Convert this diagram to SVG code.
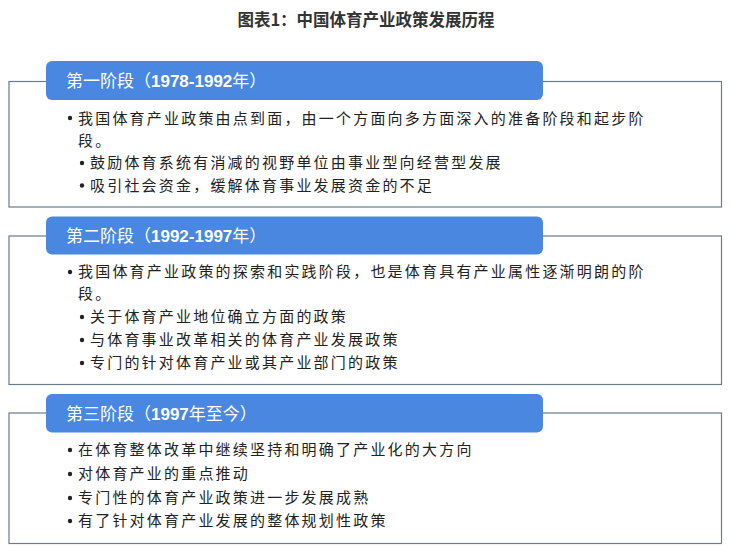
<svg xmlns="http://www.w3.org/2000/svg" width="732" height="560" viewBox="0 0 732 560">
<style>
.title{font-family:"Noto Sans CJK SC","Liberation Sans",sans-serif;font-size:16.5px;font-weight:bold;fill:#333;}
.frame{fill:#fff;stroke:#6b7b89;stroke-width:1.2;}
.head{fill:#4a87e0;}
.htxt{font-family:"Noto Sans CJK SC","Liberation Sans",sans-serif;font-size:17px;fill:#fff;}
.num{font-family:"Liberation Sans","Noto Sans CJK SC",sans-serif;font-weight:bold;}
.body{font-family:"Noto Sans CJK SC","Liberation Sans",sans-serif;font-size:15px;fill:#222;letter-spacing:2.2px;}
.dot{fill:#222;}
</style>
<rect x="0" y="0" width="732" height="560" fill="#fff"/>
<text class="title" x="366" y="26" text-anchor="middle">图表1：中国体育产业政策发展历程</text>

<g id="stage1">
<rect class="frame" x="9" y="81.5" width="712.5" height="125.5"/>
<rect class="head" x="46" y="61" width="497" height="39" rx="6"/>
<text class="htxt" x="66" y="86.5">第一阶段（<tspan class="num">1978-1992</tspan>年）</text>
<circle class="dot" cx="70" cy="118" r="2.2"/>
<text class="body" x="78" y="123.5">我国体育产业政策由点到面，由一个方面向多方面深入的准备阶段和起步阶</text>
<text class="body" x="78" y="145.5">段。</text>
<circle class="dot" cx="82" cy="163" r="2.2"/>
<text class="body" x="90" y="168">鼓励体育系统有消减的视野单位由事业型向经营型发展</text>
<circle class="dot" cx="82" cy="185.5" r="2.2"/>
<text class="body" x="90" y="190.5">吸引社会资金，缓解体育事业发展资金的不足</text>
</g>

<g id="stage2">
<rect class="frame" x="9" y="236" width="712.5" height="148.5"/>
<rect class="head" x="46" y="216.5" width="497" height="38" rx="6"/>
<text class="htxt" x="66" y="241.5">第二阶段（<tspan class="num">1992-1997</tspan>年）</text>
<circle class="dot" cx="70" cy="272" r="2.2"/>
<text class="body" x="78" y="277">我国体育产业政策的探索和实践阶段，也是体育具有产业属性逐渐明朗的阶</text>
<text class="body" x="78" y="299">段。</text>
<circle class="dot" cx="82" cy="317" r="2.2"/>
<text class="body" x="90" y="322">关于体育产业地位确立方面的政策</text>
<circle class="dot" cx="82" cy="340" r="2.2"/>
<text class="body" x="90" y="345">与体育事业改革相关的体育产业发展政策</text>
<circle class="dot" cx="82" cy="363" r="2.2"/>
<text class="body" x="90" y="368">专门的针对体育产业或其产业部门的政策</text>
</g>

<g id="stage3">
<rect class="frame" x="9" y="413" width="712.5" height="130.5"/>
<rect class="head" x="46" y="394" width="497" height="38.5" rx="6"/>
<text class="htxt" x="66" y="419.5">第三阶段（<tspan class="num">1997</tspan>年至今）</text>
<circle class="dot" cx="70" cy="450" r="2.2"/>
<text class="body" x="78" y="455">在体育整体改革中继续坚持和明确了产业化的大方向</text>
<circle class="dot" cx="70" cy="474" r="2.2"/>
<text class="body" x="78" y="479">对体育产业的重点推动</text>
<circle class="dot" cx="70" cy="498" r="2.2"/>
<text class="body" x="78" y="503">专门性的体育产业政策进一步发展成熟</text>
<circle class="dot" cx="70" cy="521" r="2.2"/>
<text class="body" x="78" y="526">有了针对体育产业发展的整体规划性政策</text>
</g>
</svg>
